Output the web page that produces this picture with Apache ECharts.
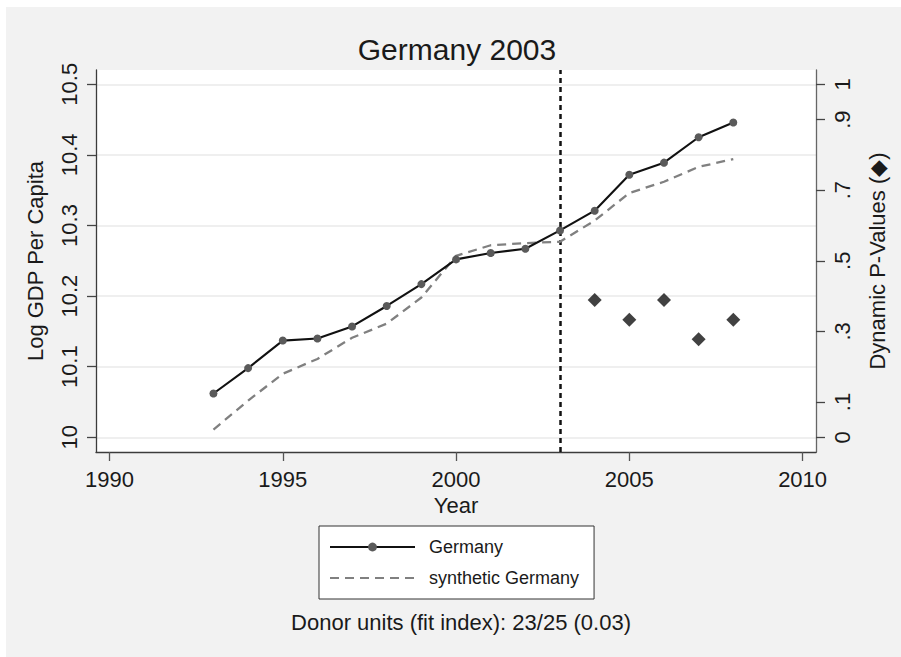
<!DOCTYPE html>
<html>
<head>
<meta charset="utf-8">
<script src="https://cdn.jsdelivr.net/npm/echarts@6/dist/echarts.min.js"></script>
<style>
html,body{margin:0;padding:0;background:#fff;}
#c{width:901px;height:657px;}
</style>
</head>
<body>
<div id="c"></div>
<script>
// ---------------- data ----------------
const years = [1993,1994,1995,1996,1997,1998,1999,2000,2001,2002,2003,2004,2005,2006,2007,2008];
const germany = [10.062,10.098,10.137,10.140,10.157,10.186,10.217,10.252,10.261,10.267,10.293,10.321,10.372,10.389,10.425,10.446];
const synthetic = [10.011,10.052,10.090,10.111,10.141,10.161,10.198,10.257,10.272,10.275,10.277,10.307,10.346,10.362,10.383,10.394];
const pYears = [2004,2005,2006,2007,2008];
const pValues = [0.389,0.333,0.389,0.278,0.333];
const treatmentYear = 2003;
const xTicks = [1990,1995,2000,2005,2010];
const yTicks = [10,10.1,10.2,10.3,10.4,10.5];
const yTickLabels = ['10','10.1','10.2','10.3','10.4','10.5'];
const pTicks = [0,0.1,0.3,0.5,0.7,0.9,1];
const pTickLabels = ['0','.1','.3','.5','.7','.9','1'];
const seriesNames = ['Germany','synthetic Germany'];
const titleText = 'Germany 2003';
const noteText = 'Donor units (fit index): 23/25 (0.03)';
const xName = 'Year';
const yName = 'Log GDP Per Capita';
const pName = 'Dynamic P-Values (\u25C6)';

// ---------------- layout ----------------
const G = {left:96, top:70, width:720, height:382};
const xFirstPx = 109.5, xLastPx = 802.6;   // pixel of first/last x tick
const yFirstPx = 437.3, yLastPx = 84.3;    // pixel of first/last y tick
const xFirst = xTicks[0], xLast = xTicks[xTicks.length-1];
const yFirst = yTicks[0], yLast = yTicks[yTicks.length-1];
const xs = (xLastPx - xFirstPx) / (xLast - xFirst);
const xMin = xFirst - (xFirstPx - G.left) / xs;
const xMax = xLast + (G.left + G.width - xLastPx) / xs;
const ys = (yFirstPx - yLastPx) / (yLast - yFirst);
const yMin = yFirst - (G.top + G.height - yFirstPx) / ys;
const yMax = yLast + (yLastPx - G.top) / ys;
// p-value axis shares pixel scale: p 0..1 <-> y 10..10.5
const pMin = (yMin - yFirst) / (yLast - yFirst);
const pMax = (yMax - yFirst) / (yLast - yFirst);

function lookup(ticks, labels, v){
  for (let i=0;i<ticks.length;i++){ if (Math.abs(ticks[i]-v) < 1e-6) return labels[i]; }
  return '';
}

const FONT = 'Liberation Sans, Arial, Helvetica, sans-serif';
const TXT = '#1a1a1a';

const chart = echarts.init(document.getElementById('c'), null, {renderer:'svg'});
chart.setOption({
  animation:false,
  backgroundColor:'#f2f2f2',
  textStyle:{fontFamily:FONT},
  graphic:[
    {type:'rect', silent:true, shape:{x:0,y:0,width:901,height:7}, style:{fill:'#ffffff'}},
    {type:'rect', silent:true, shape:{x:0,y:0,width:6,height:657}, style:{fill:'#ffffff'}}
  ],
  title:[
    {text:titleText, left:452, top:29, textAlign:'center',
     textStyle:{fontSize:30, fontWeight:'normal', color:TXT, fontFamily:FONT}},
    {text:noteText, left:456, top:606, textAlign:'center',
     textStyle:{fontSize:22, fontWeight:'normal', color:TXT, fontFamily:FONT}}
  ],
  legend:{
    data:[
      {name:seriesNames[0]},
      {name:seriesNames[1], itemStyle:{color:'rgba(0,0,0,0)', borderWidth:0}}
    ],
    orient:'vertical',
    left:319, top:526,
    backgroundColor:'#ffffff',
    borderColor:'#333333', borderWidth:1, borderRadius:0,
    padding:[12,15,12,10],
    itemWidth:85, itemHeight:11, itemGap:13,
    textStyle:{fontSize:18, color:TXT, fontFamily:FONT, padding:[0,0,0,9], lineHeight:18},
    selectedMode:false
  },
  grid:{left:G.left, top:G.top, width:G.width, height:G.height,
        show:true, backgroundColor:'#ffffff', borderWidth:0, containLabel:false},
  xAxis:{
    type:'value', min:xMin, max:xMax,
    name:xName, nameLocation:'middle', nameGap:34,
    nameTextStyle:{fontSize:22, color:TXT, fontFamily:FONT},
    axisLine:{show:true, onZero:false, lineStyle:{color:'#3c3c3c', width:1.3}},
    axisTick:{show:true, length:9, customValues:xTicks, lineStyle:{color:'#555', width:1.3}},
    axisLabel:{show:true, customValues:xTicks, margin:16, fontSize:22, color:TXT, fontFamily:FONT,
               formatter:v=>String(Math.round(v))},
    splitLine:{show:false}
  },
  yAxis:[
    {
      type:'value', min:yMin, max:yMax, position:'left',
      name:yName, nameLocation:'middle', nameGap:50,
      nameTextStyle:{fontSize:22, color:TXT, fontFamily:FONT},
      axisLine:{show:true, onZero:false, lineStyle:{color:'#3c3c3c', width:1.3}},
      axisTick:{show:true, length:9, customValues:yTicks, lineStyle:{color:'#444', width:1.3}},
      axisLabel:{show:true, customValues:yTicks, rotate:90, margin:16, fontSize:22, color:TXT, fontFamily:FONT,
                 formatter:v=>lookup(yTicks, yTickLabels, v)},
      splitLine:{show:true, lineStyle:{color:'#eaeaea', width:1.5}}
    },
    {
      type:'value', min:pMin, max:pMax, position:'right',
      name:pName, nameLocation:'middle', nameGap:50,
      nameTextStyle:{fontSize:22, color:TXT, fontFamily:FONT},
      axisLine:{show:true, onZero:false, lineStyle:{color:'#666', width:1.3}},
      axisTick:{show:true, length:9, customValues:pTicks, lineStyle:{color:'#444', width:1.3}},
      axisLabel:{show:true, customValues:pTicks, rotate:90, margin:15, fontSize:22, color:TXT, fontFamily:FONT,
                 formatter:v=>lookup(pTicks, pTickLabels, v)},
      splitLine:{show:false}
    }
  ],
  series:[
    {
      name:seriesNames[1], type:'line', z:2,
      data:years.map((y,i)=>[y, synthetic[i]]),
      symbol:'none',
      lineStyle:{color:'#808080', width:2.3, type:[9,6]},
      itemStyle:{color:'#808080'},
      markLine:{
        silent:true, symbol:'none', z:1,
        label:{show:false},
        lineStyle:{color:'#111', width:2.5, type:[5,4]},
        data:[{xAxis:treatmentYear}]
      }
    },
    {
      name:seriesNames[0], type:'line', z:3,
      data:years.map((y,i)=>[y, germany[i]]),
      symbol:'circle', symbolSize:8, showAllSymbol:true,
      lineStyle:{color:'#111', width:2.1},
      itemStyle:{color:'#5a5a5a'}
    },
    {
      name:'p', type:'scatter', yAxisIndex:1, z:4,
      data:pYears.map((y,i)=>[y, pValues[i]]),
      symbol:'diamond', symbolSize:14,
      itemStyle:{color:'#111'}
    }
  ]
});
</script>
</body>
</html>
